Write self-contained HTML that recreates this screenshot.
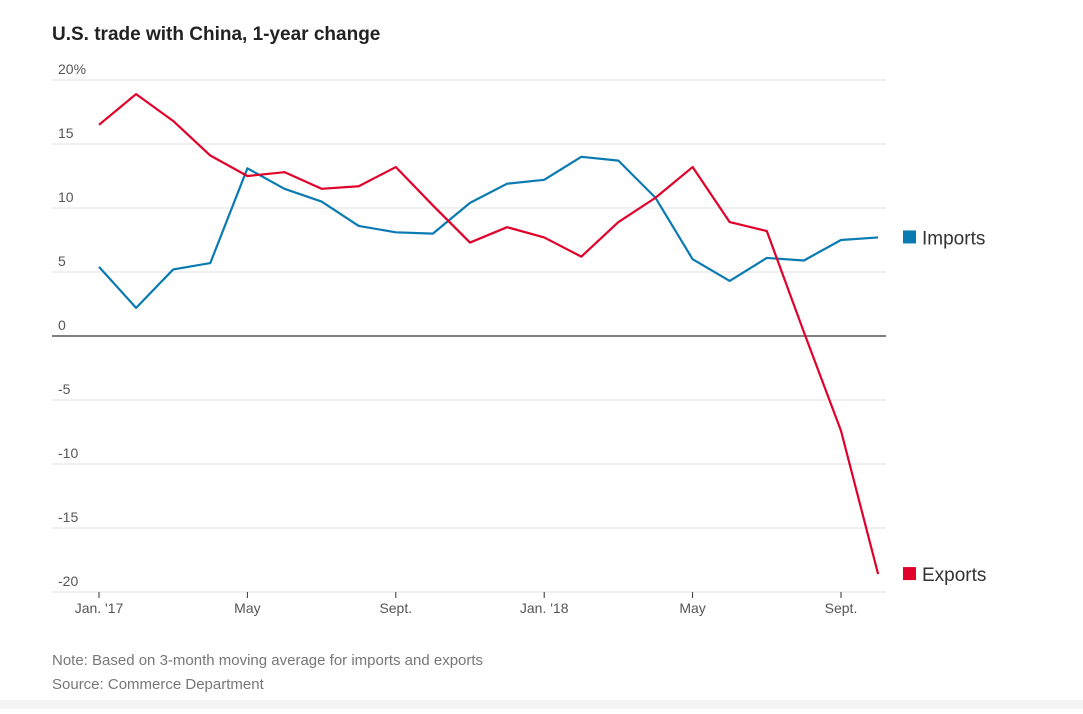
<!DOCTYPE html>
<html><head><meta charset="utf-8"><style>
html,body{margin:0;padding:0;background:#fff;}
body{width:1083px;height:709px;overflow:hidden;position:relative;font-family:"Liberation Sans",sans-serif;}
</style></head><body>
<svg width="1083" height="709" xmlns="http://www.w3.org/2000/svg">
<rect x="0" y="700" width="1083" height="9" fill="#f4f4f4"/>
<text x="52" y="40" font-size="19" font-weight="bold" fill="#222">U.S. trade with China, 1-year change</text>
<g id="grid"></g><g id="xt"></g><g id="lines"></g>
<text x="52" y="665" font-size="15" fill="#777">Note: Based on 3-month moving average for imports and exports</text>
<text x="52" y="689" font-size="15" fill="#777">Source: Commerce Department</text>
</svg>
<script>
const yTicks=[20,15,10,5,0,-5,-10,-15,-20];
const xLabels=["Jan. '17","May","Sept.","Jan. '18","May","Sept."];
const xLabelIdx=[0,4,8,12,16,20];
const imports=[5.4,2.2,5.2,5.7,13.1,11.5,10.5,8.6,8.1,8.0,10.4,11.9,12.2,14.0,13.7,10.8,6.0,4.3,6.1,5.9,7.5,7.7];
const exportsV=[16.5,18.9,16.8,14.1,12.5,12.8,11.5,11.7,13.2,10.2,7.3,8.5,7.7,6.2,8.9,10.8,13.2,8.9,8.2,0.3,-7.4,-18.6];
const NS="http://www.w3.org/2000/svg";
const y=v=>336-v*12.8, x=i=>99+i*37.1;
function mk(t,a,p){const e=document.createElementNS(NS,t);for(const k in a)e.setAttribute(k,a[k]);p.appendChild(e);return e;}
const g=document.getElementById('grid');
yTicks.forEach(v=>{
 const l=mk('line',{x1:52,x2:886,y1:y(v),y2:y(v),stroke:v===0?'#333':'#e0e0e0','stroke-width':v===0?1.3:1},g);
 
 
 const t=mk('text',{x:58,y:y(v)-6,'font-size':14,fill:'#555'},g);
 t.textContent=v===20?'20%':String(v);
 
 
});
const xt=document.getElementById('xt');
xLabels.forEach((s,k)=>{
 const xx=x(xLabelIdx[k]);
 const tk=mk('line',{x1:xx,x2:xx,y1:592,y2:598,stroke:'#333'},xt);
 
 
 const t=mk('text',{x:xx,y:613,'font-size':14,fill:'#555','text-anchor':'middle'},xt);
 t.textContent=s;
 
 
});
const L=document.getElementById('lines');
function series(d,c,name,label){
 const p=mk('polyline',{points:d.map((v,i)=>x(i)+','+y(v)).join(' '),fill:'none',stroke:c,'stroke-width':2.2,'stroke-linejoin':'round'},L);
 
 
 const ly=y(d[d.length-1]);
 const r=mk('rect',{x:903,y:ly-7,width:13,height:13,fill:c},L);
 
 
 const t=mk('text',{x:922,y:ly+7,'font-size':19,fill:'#333'},L);
 t.textContent=label;
 
 
}
series(imports,'#0a7ab2','imports','Imports');
series(exportsV,'#e0002a','exports','Exports');
</script>
</body></html>
